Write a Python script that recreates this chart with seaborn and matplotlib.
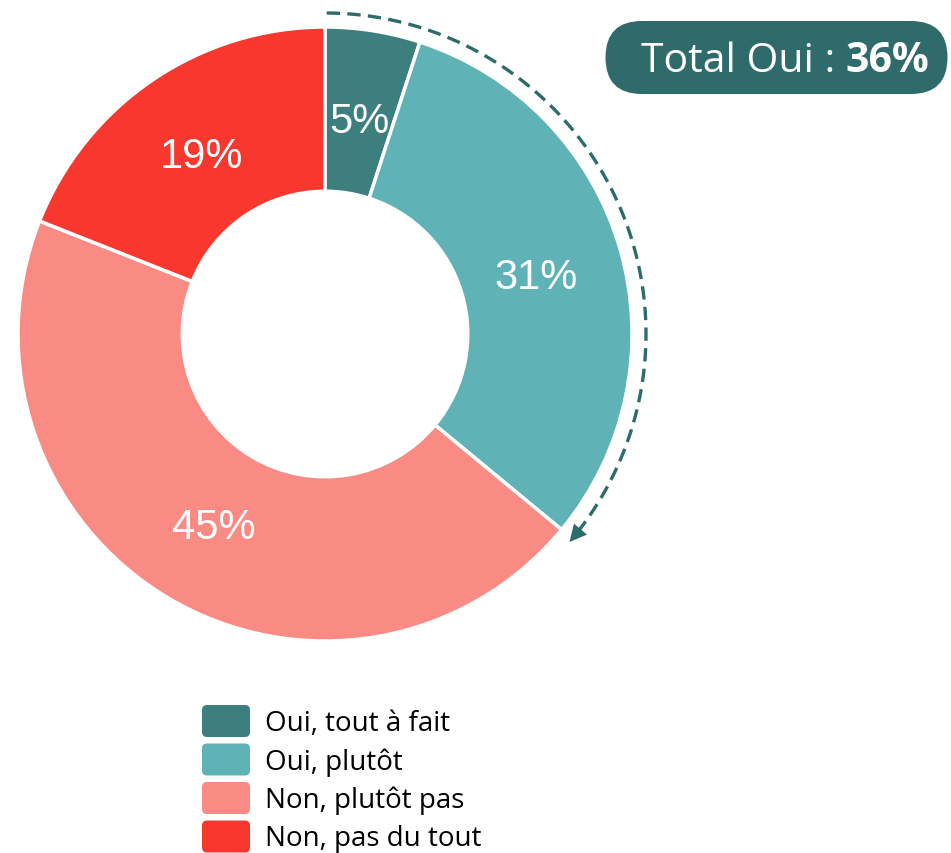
import numpy as np
import matplotlib
matplotlib.use("Agg")
import matplotlib.pyplot as plt
import seaborn as sns
from matplotlib.patches import FancyBboxPatch

# data
labels = ["Oui, tout à fait", "Oui, plutôt", "Non, plutôt pas", "Non, pas du tout"]
values = [5, 31, 45, 19]
colors = ["#3d7f7e", "#5fb3b6", "#f98b84", "#f8382e"]
total_oui = values[0] + values[1]

sns.set_theme(style="white")
plt.rcParams["font.family"] = ["Open Sans", "DejaVu Sans"]

W, H = 951, 854
fig = plt.figure(figsize=(W / 100, H / 100), dpi=100)
ax = fig.add_axes([0, 0, 1, 1])

cx, cy, R = 325, H - 335, 307
wedges, _ = ax.pie(values, colors=colors, startangle=90, counterclock=False,
                   center=(cx, cy), radius=R,
                   wedgeprops=dict(width=R * 0.535, edgecolor="white", linewidth=2.5))
ax.set_xlim(0, W)
ax.set_ylim(0, H)
ax.set_aspect("equal")
ax.axis("off")

# percentage labels in the middle of the ring
cum = np.cumsum([0] + values[:-1])
for v, c0 in zip(values, cum):
    ang = np.deg2rad(90 - (c0 + v / 2) * 3.6)
    rl = R * 0.715
    ax.text(cx + rl * np.cos(ang), cy + rl * np.sin(ang) - 4, f"{v}%",
            ha="center", va="center", color="white", fontsize=30,
            family=["Liberation Sans", "DejaVu Sans"])

# dashed arc over the "Oui" share, with an arrow head at its end
ra = 321
arc_col = "#2e6b6b"
end_deg = total_oui * 3.6
th = np.deg2rad(90 - np.linspace(0.3, end_deg - 2.0, 200))
ax.plot(cx + ra * np.cos(th), cy + ra * np.sin(th), color=arc_col,
        lw=2.4, ls=(0, (4, 2.2)))
tip_a = np.deg2rad(end_deg + 0.8)
tip = np.array([cx + ra * np.sin(tip_a), cy + ra * np.cos(tip_a)])
d = np.array([np.cos(tip_a), -np.sin(tip_a)])
perp = np.array([-d[1], d[0]])
base = tip - d * 17
head = np.array([tip, base + perp * 8.5, base - perp * 8.5])
ax.fill(head[:, 0], head[:, 1], color=arc_col, lw=0)

# badge
ax.add_patch(FancyBboxPatch((642, H - 95 + 36.5), 269, 0, boxstyle="round,pad=36.5",
                            fc="#2f6b6b", ec="none"))
fig.canvas.draw()
t = ax.text(641, H - 62, "Total Oui : ", color="white", fontsize=29.5,
            ha="left", va="center")
bb = t.get_window_extent(renderer=fig.canvas.get_renderer())
x1 = ax.transData.inverted().transform((bb.x1, bb.y0))[0]
ax.text(x1, H - 62, f"{total_oui}%", color="white", fontsize=29.5,
        fontweight="bold", ha="left", va="center")

# legend
for i, (lab, col) in enumerate(zip(labels, colors)):
    yc = H - (722 + i * 38.5)
    ax.add_patch(FancyBboxPatch((205, yc - 13), 42, 26, boxstyle="round,pad=3,rounding_size=5",
                                fc=col, ec="none"))
    ax.text(265, yc - 2, lab, fontsize=20, va="center", ha="left", color="black")

fig.savefig("out.png", dpi=100)
